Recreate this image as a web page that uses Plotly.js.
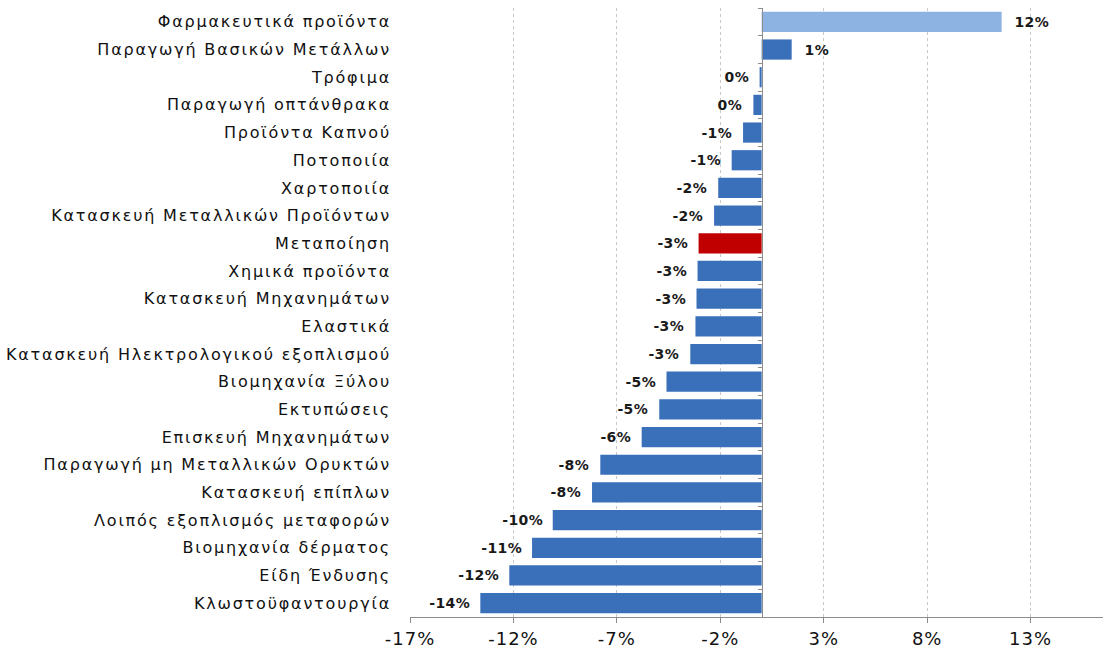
<!DOCTYPE html>
<html>
<head>
<meta charset="utf-8">
<script src="https://cdn.plot.ly/plotly-3.0.1.min.js"></script>
<style>
html,body{margin:0;padding:0;background:#fff}
#chart{width:1103px;height:650px}
#chart .ytick text{letter-spacing:1.8px}
#chart .xtick text{letter-spacing:1px}
#chart .annotation-text{letter-spacing:0.4px}
</style>
</head>
<body>
<div id="chart"></div>
<script>
var categories = [
  "Φαρμακευτικά προϊόντα",
  "Παραγωγή Βασικών Μετάλλων",
  "Τρόφιμα",
  "Παραγωγή οπτάνθρακα",
  "Προϊόντα Καπνού",
  "Ποτοποιία",
  "Χαρτοποιία",
  "Κατασκευή Μεταλλικών Προϊόντων",
  "Μεταποίηση",
  "Χημικά προϊόντα",
  "Κατασκευή Μηχανημάτων",
  "Ελαστικά",
  "Κατασκευή Ηλεκτρολογικού εξοπλισμού",
  "Βιομηχανία Ξύλου",
  "Εκτυπώσεις",
  "Επισκευή Μηχανημάτων",
  "Παραγωγή μη Μεταλλικών Ορυκτών",
  "Κατασκευή επίπλων",
  "Λοιπός εξοπλισμός μεταφορών",
  "Βιομηχανία δέρματος",
  "Είδη Ένδυσης",
  "Κλωστοϋφαντουργία"
];
var values = [11.6, 1.45, -0.1, -0.4, -0.9, -1.45, -2.1, -2.3, -3.05, -3.1, -3.15, -3.2, -3.45, -4.6, -4.95, -5.8, -7.8, -8.2, -10.1, -11.1, -12.2, -13.6];
var tickValues = [-17, -12, -7, -2, 3, 8, 13];

var colors = categories.map(function(c, i){
  if (c === "Μεταποίηση") return "#C00000";
  if (i === 0) return "#8DB3E2";
  return "#3A6FBA";
});

var annotations = categories.map(function(c, i){
  var v = values[i];
  return {
    x: v, y: c, xref: 'x', yref: 'y',
    text: '<b>' + String(Math.round(v)) + '%</b>',
    showarrow: false,
    xanchor: v >= 0 ? 'left' : 'right',
    xshift: v >= 0 ? 11 : -9,
    font: {family: 'DejaVu Sans, sans-serif', size: 14, color: '#1a1a1a'}
  };
});

var trace = {
  type: 'bar', orientation: 'h',
  x: values, y: categories,
  marker: {color: colors, line: {width: 0}},
  hoverinfo: 'x+y'
};
var tickTrace = {
  type: 'bar', orientation: 'h',
  x: values.map(function(){return 0;}), y: categories,
  yaxis: 'y2', marker: {color: 'rgba(0,0,0,0)'}, hoverinfo: 'skip', showlegend: false
};

var layout = {
  width: 1103, height: 650,
  margin: {l: 410, r: 0, t: 8, b: 33},
  paper_bgcolor: '#fff', plot_bgcolor: '#fff',
  showlegend: false,
  bargap: 0.27,
  font: {family: 'DejaVu Sans, sans-serif', color: '#111'},
  xaxis: {
    range: [-17, 16.5],
    tickvals: tickValues,
    ticktext: tickValues.map(function(t){return t + '%';}),
    tickfont: {size: 18, color: '#111'},
    showgrid: true, gridcolor: '#c8c8c8', griddash: 'dot', gridwidth: 1,
    zeroline: false,
    showline: true, linecolor: '#8c8c8c', linewidth: 1,
    ticks: 'outside', ticklen: 5, tickcolor: '#8c8c8c'
  },
  yaxis: {
    type: 'category',
    autorange: 'reversed',
    tickfont: {size: 16, color: '#111'},
    ticks: '', showline: false, showgrid: false, zeroline: false,
    ticklabelstandoff: 18
  },
  yaxis2: {
    type: 'category', overlaying: 'y', matches: 'y',
    anchor: 'free', position: 17 / 33.5, side: 'left',
    showticklabels: false, showgrid: false, zeroline: false,
    showline: true, linecolor: '#8c8c8c', linewidth: 1,
    ticks: 'outside', ticklen: 4, tickcolor: '#8c8c8c', tickson: 'boundaries'
  },
  annotations: annotations
};

Plotly.newPlot('chart', [trace, tickTrace], layout, {displayModeBar: false, staticPlot: true});
</script>
</body>
</html>
